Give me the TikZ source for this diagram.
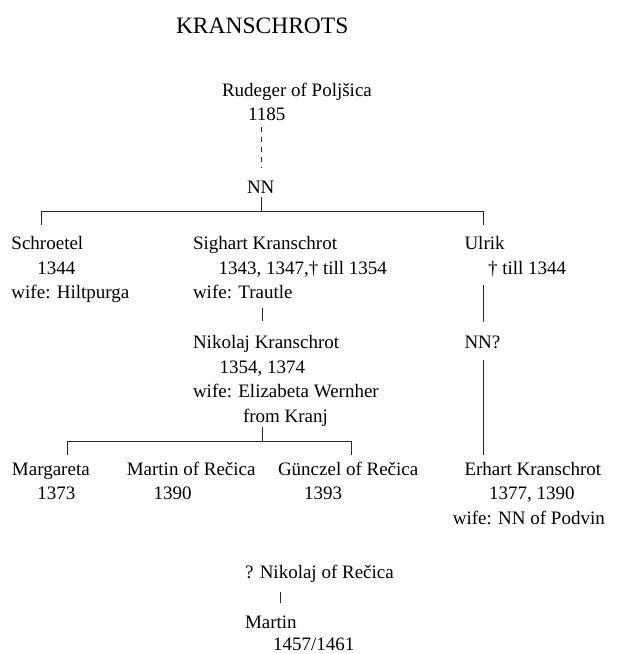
\documentclass[tikz,border=0pt]{standalone}
\usepackage{fontspec}
\setmainfont{Liberation Serif}
\begin{document}
\begin{tikzpicture}[x=1pt,y=-1pt,
  txt/.style={anchor=base west,inner sep=0pt,outer sep=0pt,font=\fontsize{19}{23}\selectfont},
  ttl/.style={anchor=base west,inner sep=0pt,outer sep=0pt,font=\fontsize{23.5}{28}\selectfont},
  link/.style={line width=0.9pt,draw=black!85},
  dlink/.style={link,dash pattern=on 5pt off 5pt}]
\useasboundingbox (0,0) rectangle (617,654);
% title
\node[ttl] (title) at (176,33) {KRANSCHROTS};
% root
\node[txt] (rud1) at (222,96.5) {Rudeger of Poljšica};
\node[txt] (rud2) at (248,120.5) {1185};
\node[txt] (nn) at (247,193.5) {NN};
% generation 2
\node[txt] (sch1) at (11.5,249.5) {Schroetel};
\node[txt] (sch2) at (37.5,274) {1344};
\node[txt] (sch3) at (11.5,298.5) {wife: Hiltpurga};
\node[txt] (sig1) at (193,249.5) {Sighart Kranschrot};
\node[txt] (sig2) at (218.5,274) {1343, 1347,† till 1354};
\node[txt] (sig3) at (193,298.5) {wife: Trautle};
\node[txt] (ulr1) at (464.5,249.5) {Ulrik};
\node[txt] (ulr2) at (488,274) {† till 1344};
% generation 3
\node[txt] (nik1) at (193,348.5) {Nikolaj Kranschrot};
\node[txt] (nik2) at (219.5,373) {1354, 1374};
\node[txt] (nik3) at (193,397.5) {wife: Elizabeta Wernher};
\node[txt] (nik4) at (243,422) {from Kranj};
\node[txt] (nnq) at (464.5,348.5) {NN?};
% generation 4
\node[txt] (mar1) at (12,475) {Margareta};
\node[txt] (mar2) at (37.5,499.5) {1373};
\node[txt] (mat1) at (126.8,475) {Martin of Rečica};
\node[txt] (mat2) at (153.5,499.5) {1390};
\node[txt] (gun1) at (278,475) {Günczel of Rečica};
\node[txt] (gun2) at (304,499.5) {1393};
\node[txt] (erh1) at (464.5,475) {Erhart Kranschrot};
\node[txt] (erh2) at (489,499.5) {1377, 1390};
\node[txt] (erh3) at (452.8,524) {wife: NN of Podvin};
% later
\node[txt] (nre) at (245,578.5) {? Nikolaj of Rečica};
\node[txt] (mrt1) at (245,628) {Martin};
\node[txt] (mrt2) at (273,650.5) {1457/1461};
% connector points
\coordinate (rudB) at (261.7,127);
\coordinate (nnT) at (261.7,168);
\coordinate (nnB) at (261.7,197);
\coordinate (barA) at (261.7,211);
\coordinate (barL) at (41.3,211);
\coordinate (barR) at (483.5,211);
\coordinate (schT) at (41.3,225);
\coordinate (ulrT) at (483.5,225);
\coordinate (sigB) at (262,308);
\coordinate (nikT) at (262,321);
\coordinate (ulrB) at (483.5,285);
\coordinate (nnqT) at (483.5,322);
\coordinate (nnqB) at (483.5,360);
\coordinate (erhT) at (483.5,455);
\coordinate (nikB) at (262,427);
\coordinate (barB) at (262,441);
\coordinate (barBL) at (67,441);
\coordinate (barBR) at (351.7,441);
\coordinate (marT) at (67,455);
\coordinate (gunT) at (351.7,455);
\coordinate (nreB) at (280.5,592);
\coordinate (mrtT) at (280.5,603);
% connectors
\draw[dlink] (rudB) -- (nnT);
\draw[link] (nnB) -- (barA);
\draw[link] (schT) -- (barL) -- (barR) -- (ulrT);
\draw[link] (sigB) -- (nikT);
\draw[link] (ulrB) -- (nnqT);
\draw[link] (nnqB) -- (erhT);
\draw[link] (nikB) -- (barB);
\draw[link] (marT) -- (barBL) -- (barBR) -- (gunT);
\draw[link] (nreB) -- (mrtT);
\end{tikzpicture}
\end{document}
